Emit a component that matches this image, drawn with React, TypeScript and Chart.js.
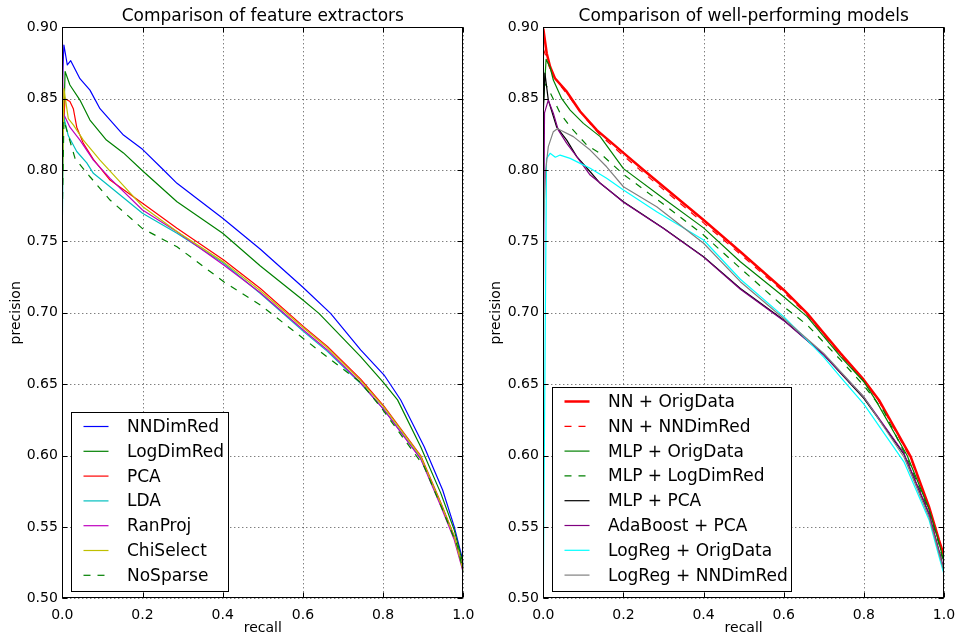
import React, { useEffect, useRef } from 'react';
import { Chart, registerables } from 'chart.js';
Chart.register(...registerables);

const FONT = "'DejaVu Sans', sans-serif";

const xTicks = [0, 0.2, 0.4, 0.6, 0.8, 1.0];
const yTicks = [0.5, 0.55, 0.6, 0.65, 0.7, 0.75, 0.8, 0.85, 0.9];

// ---------- Left panel: feature extractors ----------
const recNNDimRed = [0, 0.004, 0.0125, 0.021, 0.044, 0.069, 0.094, 0.1525, 0.2, 0.2525, 0.286, 0.4, 0.494, 0.6, 0.669, 0.744, 0.8025, 0.844, 0.9025, 0.9485, 0.9775, 0.9985, 1.0];
const preNNDimRed = [0.86, 0.8876, 0.8736, 0.8766, 0.864, 0.856, 0.843, 0.8245, 0.8145, 0.8, 0.7907, 0.7662, 0.7445, 0.7179, 0.6996, 0.674, 0.6564, 0.6389, 0.6062, 0.5759, 0.55, 0.5268, 0.522];

const recLogDimRed = [0, 0.007, 0.019, 0.044, 0.069, 0.11, 0.1525, 0.2, 0.286, 0.4, 0.494, 0.6, 0.64, 0.744, 0.8, 0.836, 0.894, 0.944, 0.9775, 0.9985, 1.0];
const preLogDimRed = [0.8, 0.869, 0.8596, 0.849, 0.835, 0.821, 0.812, 0.7995, 0.7778, 0.7557, 0.7328, 0.709, 0.6996, 0.6693, 0.6515, 0.639, 0.606, 0.5735, 0.5478, 0.525, 0.521];

const recPCA = [0, 0.007, 0.019, 0.0275, 0.036, 0.0525, 0.0775, 0.119, 0.2, 0.286, 0.4025, 0.494, 0.601, 0.661, 0.744, 0.8025, 0.894, 0.944, 0.9775, 1.0];
const prePCA = [0.82, 0.85, 0.848, 0.843, 0.83, 0.8187, 0.8075, 0.793, 0.7767, 0.7592, 0.737, 0.717, 0.6905, 0.6765, 0.6535, 0.6345, 0.5998, 0.567, 0.5435, 0.52];

const recLDA = [0, 0.003, 0.015, 0.036, 0.061, 0.0775, 0.119, 0.2, 0.286, 0.4025, 0.494, 0.601, 0.661, 0.744, 0.8025, 0.894, 0.944, 0.9775, 1.0];
const preLDA = [0.76, 0.838, 0.824, 0.813, 0.805, 0.7977, 0.7883, 0.7697, 0.7557, 0.7347, 0.7135, 0.687, 0.673, 0.6505, 0.632, 0.598, 0.5655, 0.5425, 0.519];

const recRanProj = [0, 0.002, 0.019, 0.044, 0.0775, 0.119, 0.2, 0.286, 0.4025, 0.494, 0.601, 0.661, 0.744, 0.8025, 0.894, 0.944, 0.9775, 1.0];
const preRanProj = [0.9, 0.84, 0.83, 0.821, 0.807, 0.7942, 0.772, 0.7568, 0.7335, 0.714, 0.688, 0.674, 0.651, 0.632, 0.5975, 0.5645, 0.541, 0.518];

const recChiSelect = [0, 0.004, 0.015, 0.0275, 0.0525, 0.094, 0.2, 0.286, 0.4025, 0.494, 0.601, 0.661, 0.744, 0.8025, 0.894, 0.944, 0.9775, 1.0];
const preChiSelect = [0.78, 0.857, 0.836, 0.8316, 0.821, 0.807, 0.7745, 0.757, 0.7355, 0.7155, 0.6895, 0.6755, 0.6525, 0.6338, 0.5992, 0.5662, 0.543, 0.519];

const recNoSparse = [0, 0.004, 0.011, 0.032, 0.069, 0.119, 0.2, 0.286, 0.4025, 0.494, 0.601, 0.661, 0.744, 0.794, 0.9025, 0.9485, 0.986, 1.0];
const preNoSparse = [0.77, 0.835, 0.828, 0.808, 0.7953, 0.779, 0.759, 0.7463, 0.7218, 0.7055, 0.682, 0.669, 0.6512, 0.634, 0.5922, 0.5618, 0.5362, 0.518];

// ---------- Right panel: well-performing models ----------
const recNNOrig = [0, 0.0085, 0.017, 0.029, 0.0585, 0.092, 0.1335, 0.2, 0.25, 0.4, 0.4918, 0.6, 0.6585, 0.7418, 0.8, 0.8375, 0.9168, 0.9625, 0.9875, 1.0];
const preNNOrig = [0.899, 0.8818, 0.8724, 0.8643, 0.8549, 0.841, 0.828, 0.812, 0.8, 0.765, 0.7428, 0.716, 0.6996, 0.6716, 0.653, 0.639, 0.5992, 0.5642, 0.5408, 0.53];

const recNNNNDimRed = [0, 0.006, 0.02, 0.035, 0.06, 0.1, 0.14, 0.2, 0.25, 0.4, 0.4918, 0.6, 0.6585, 0.7418, 0.8, 0.8375, 0.9168, 0.9625, 0.9875, 1.0];
const preNNNNDimRed = [0.885, 0.88, 0.868, 0.862, 0.853, 0.838, 0.825, 0.81, 0.798, 0.763, 0.741, 0.7145, 0.6985, 0.6705, 0.652, 0.638, 0.598, 0.563, 0.54, 0.527];

const recMLPOrig = [0, 0.007, 0.017, 0.025, 0.046, 0.067, 0.1, 0.142, 0.2, 0.3, 0.4, 0.4918, 0.6, 0.6585, 0.7418, 0.8, 0.829, 0.908, 0.9625, 0.9875, 1.0];
const preMLPOrig = [0.845, 0.8776, 0.872, 0.863, 0.85, 0.842, 0.8327, 0.8234, 0.801, 0.78, 0.7595, 0.7358, 0.7113, 0.6973, 0.6693, 0.6517, 0.639, 0.6, 0.5625, 0.539, 0.525];

const recMLPLogDimRed = [0, 0.0125, 0.042, 0.067, 0.1085, 0.142, 0.2, 0.3, 0.4, 0.4918, 0.6, 0.6585, 0.7418, 0.8, 0.85, 0.908, 0.9625, 0.9875, 1.0];
const preMLPLogDimRed = [0.862, 0.857, 0.8398, 0.8304, 0.8175, 0.8117, 0.797, 0.776, 0.7545, 0.7312, 0.7043, 0.6915, 0.667, 0.649, 0.631, 0.598, 0.561, 0.538, 0.523];

const recMLPPCA = [0, 0.004, 0.0125, 0.0335, 0.0585, 0.0835, 0.117, 0.142, 0.2, 0.3, 0.4, 0.4918, 0.6, 0.7, 0.8, 0.9, 0.9625, 0.99, 1.0];
const preMLPPCA = [0.84, 0.868, 0.849, 0.83, 0.821, 0.8094, 0.7988, 0.7907, 0.7778, 0.7592, 0.7393, 0.717, 0.6949, 0.6706, 0.64, 0.601, 0.559, 0.53, 0.518];

const recAdaPCA = [0, 0.003, 0.0125, 0.025, 0.0375, 0.0585, 0.0835, 0.117, 0.158, 0.2, 0.3, 0.4, 0.4918, 0.6, 0.7, 0.8, 0.9, 0.9625, 0.99, 1.0];
const preAdaPCA = [0.7, 0.84, 0.849, 0.8398, 0.828, 0.8187, 0.8094, 0.7965, 0.7872, 0.7775, 0.759, 0.739, 0.7165, 0.6945, 0.6706, 0.641, 0.6015, 0.5596, 0.531, 0.52];

const recLogRegOrig = [0, 0.008, 0.017, 0.03, 0.042, 0.067, 0.092, 0.117, 0.158, 0.2, 0.283, 0.4, 0.4918, 0.6, 0.6585, 0.7, 0.7418, 0.8, 0.9, 0.9625, 0.99, 1.0];
const preLogRegOrig = [0.505, 0.808, 0.8117, 0.809, 0.8105, 0.8082, 0.8047, 0.8012, 0.7942, 0.786, 0.7708, 0.751, 0.7235, 0.6973, 0.6809, 0.669, 0.655, 0.636, 0.5956, 0.5551, 0.5268, 0.517];

const recLogRegNN = [0, 0.006, 0.0125, 0.025, 0.035, 0.042, 0.075, 0.117, 0.158, 0.2, 0.283, 0.4, 0.4918, 0.6, 0.7, 0.8, 0.9, 0.9625, 0.99, 1.0];
const preLogRegNN = [0.76, 0.8, 0.8164, 0.8269, 0.829, 0.828, 0.8234, 0.814, 0.8023, 0.7883, 0.7743, 0.7487, 0.7218, 0.696, 0.6716, 0.641, 0.599, 0.557, 0.529, 0.519];

type Series = { label: string; rec: number[]; pre: number[]; color: string; width: number; dash: number[] };

const DASH = [7, 7];

const leftSeries: Series[] = [
  { label: 'NNDimRed', rec: recNNDimRed, pre: preNNDimRed, color: '#0000ff', width: 1.2, dash: [] },
  { label: 'LogDimRed', rec: recLogDimRed, pre: preLogDimRed, color: '#008000', width: 1.2, dash: [] },
  { label: 'PCA', rec: recPCA, pre: prePCA, color: '#ff0000', width: 1.2, dash: [] },
  { label: 'LDA', rec: recLDA, pre: preLDA, color: '#00bfbf', width: 1.2, dash: [] },
  { label: 'RanProj', rec: recRanProj, pre: preRanProj, color: '#bf00bf', width: 1.2, dash: [] },
  { label: 'ChiSelect', rec: recChiSelect, pre: preChiSelect, color: '#bfbf00', width: 1.2, dash: [] },
  { label: 'NoSparse', rec: recNoSparse, pre: preNoSparse, color: '#008000', width: 1.2, dash: DASH },
];

const rightSeries: Series[] = [
  { label: 'NN + OrigData', rec: recNNOrig, pre: preNNOrig, color: '#ff0000', width: 2.5, dash: [] },
  { label: 'NN + NNDimRed', rec: recNNNNDimRed, pre: preNNNNDimRed, color: '#ff0000', width: 1.2, dash: DASH },
  { label: 'MLP + OrigData', rec: recMLPOrig, pre: preMLPOrig, color: '#008000', width: 1.2, dash: [] },
  { label: 'MLP + LogDimRed', rec: recMLPLogDimRed, pre: preMLPLogDimRed, color: '#008000', width: 1.2, dash: DASH },
  { label: 'MLP + PCA', rec: recMLPPCA, pre: preMLPPCA, color: '#000000', width: 1.2, dash: [] },
  { label: 'AdaBoost + PCA', rec: recAdaPCA, pre: preAdaPCA, color: '#800080', width: 1.2, dash: [] },
  { label: 'LogReg + OrigData', rec: recLogRegOrig, pre: preLogRegOrig, color: '#00ffff', width: 1.2, dash: [] },
  { label: 'LogReg + NNDimRed', rec: recLogRegNN, pre: preLogRegNN, color: '#808080', width: 1.2, dash: [] },
];

const mplPlugin = {
  id: 'mpl',
  beforeDatasetsDraw(chart: any) {
    const { ctx, chartArea: a } = chart;
    const xs = chart.scales.x;
    const ys = chart.scales.y;
    ctx.save();
    ctx.strokeStyle = 'rgba(0,0,0,0.8)';
    ctx.lineWidth = 0.9;
    ctx.setLineDash([1, 3]);
    ctx.beginPath();
    for (const v of xTicks) {
      const p = Math.round(xs.getPixelForValue(v)) + 0.5;
      ctx.moveTo(p, a.top);
      ctx.lineTo(p, a.bottom);
    }
    for (const v of yTicks) {
      const p = Math.round(ys.getPixelForValue(v)) + 0.5;
      ctx.moveTo(a.left, p);
      ctx.lineTo(a.right, p);
    }
    ctx.stroke();
    ctx.restore();
  },
  afterDraw(chart: any, _args: any, opts: any) {
    const { ctx, chartArea: a } = chart;
    const xs = chart.scales.x;
    const ys = chart.scales.y;
    ctx.save();
    ctx.setLineDash([]);
    ctx.strokeStyle = '#000';
    ctx.lineWidth = 1;
    const L = Math.round(a.left) + 0.5;
    const R = Math.round(a.right) - 0.5;
    const T = Math.round(a.top) + 0.5;
    const B = Math.round(a.bottom) - 0.5;
    ctx.strokeRect(L, T, R - L, B - T);
    ctx.beginPath();
    const tl = 5;
    for (const v of xTicks) {
      const p = Math.round(xs.getPixelForValue(v)) + 0.5;
      ctx.moveTo(p, B); ctx.lineTo(p, B - tl);
      ctx.moveTo(p, T); ctx.lineTo(p, T + tl);
    }
    for (const v of yTicks) {
      const p = Math.round(ys.getPixelForValue(v)) + 0.5;
      ctx.moveTo(L, p); ctx.lineTo(L + tl, p);
      ctx.moveTo(R, p); ctx.lineTo(R - tl, p);
    }
    ctx.stroke();

    // title
    ctx.fillStyle = '#000';
    ctx.font = `17px ${FONT}`;
    ctx.textAlign = 'center';
    ctx.textBaseline = 'alphabetic';
    ctx.fillText(opts.title, (a.left + a.right) / 2, 21);

    // legend
    const ds = chart.data.datasets;
    const n = ds.length;
    ctx.font = `17px ${FONT}`;
    let maxW = 0;
    for (const d of ds) maxW = Math.max(maxW, ctx.measureText(d.label).width);
    const rowH = 24.8, padT = 14, padB = 16;
    const bw = Math.round(55.5 + maxW + 4);
    const bh = Math.round(padT + (n - 1) * rowH + padB);
    const bx = Math.round(a.left + 8.7) + 0.5;
    const by = Math.round(a.bottom - 7.6 - bh) + 0.5;
    ctx.fillStyle = '#fff';
    ctx.fillRect(bx, by, bw, bh);
    ctx.strokeStyle = '#000';
    ctx.lineWidth = 1;
    ctx.strokeRect(bx, by, bw, bh);
    ctx.textAlign = 'left';
    ctx.textBaseline = 'middle';
    for (let i = 0; i < n; i++) {
      const d = ds[i];
      const cy = by + padT + i * rowH;
      ctx.save();
      ctx.strokeStyle = d.borderColor;
      ctx.lineWidth = d.borderWidth;
      ctx.setLineDash(d.borderDash || []);
      ctx.beginPath();
      ctx.moveTo(bx + 12, cy);
      ctx.lineTo(bx + 37, cy);
      ctx.stroke();
      ctx.restore();
      ctx.fillStyle = '#000';
      ctx.fillText(d.label, bx + 55.5, cy + 1);
    }
    ctx.restore();
  },
};

function Panel(props: { series: Series[]; title: string; left: number; width: number; areaLeft: number; padRight: number }) {
  const ref = useRef<HTMLCanvasElement>(null);
  useEffect(() => {
    const tickFont = { family: FONT, size: 14 };
    const chart = new Chart(ref.current as HTMLCanvasElement, {
      type: 'line',
      data: {
        datasets: props.series.map((s, i) => ({
          label: s.label,
          data: s.rec.map((r, k) => ({ x: r, y: s.pre[k] })),
          borderColor: s.color,
          backgroundColor: s.color,
          borderWidth: s.width,
          borderDash: s.dash,
          pointRadius: 0,
          tension: 0,
          fill: false,
          order: -i,
          borderJoinStyle: 'round',
        })),
      },
      options: {
        animation: false,
        responsive: false,
        events: [],
        layout: { padding: { top: 27.3, right: props.padRight, bottom: 0, left: 0 } },
        plugins: {
          legend: { display: false },
          tooltip: { enabled: false },
          title: { display: false },
          // @ts-ignore
          mpl: { title: props.title },
        },
        scales: {
          x: {
            type: 'linear',
            min: 0,
            max: 1,
            afterBuildTicks: (s: any) => { s.ticks = xTicks.map((v) => ({ value: v })); },
            afterFit: (s: any) => { s.height = 38.7; },
            grid: { display: false, drawTicks: true, tickLength: 8 },
            border: { display: false },
            ticks: { autoSkip: false, maxRotation: 0, padding: 1, color: '#000', font: tickFont, callback: (v: any) => Number(v).toFixed(1) },
            title: { display: true, text: 'recall', color: '#000', font: tickFont, padding: { top: 0, bottom: 0 } },
          },
          y: {
            type: 'linear',
            min: 0.5,
            max: 0.9,
            afterBuildTicks: (s: any) => { s.ticks = yTicks.map((v) => ({ value: v })); },
            afterFit: (s: any) => { s.width = props.areaLeft; },
            grid: { display: false, drawTicks: false },
            border: { display: false },
            ticks: { autoSkip: false, padding: 4.5, color: '#000', font: tickFont, callback: (v: any) => Number(v).toFixed(2) },
            title: { display: true, text: 'precision', color: '#000', font: tickFont, padding: { top: 7.6, bottom: 0 } },
          },
        },
      } as any,
      plugins: [mplPlugin as any],
    });
    return () => chart.destroy();
  }, []);
  return (
    <canvas
      ref={ref}
      width={props.width}
      height={637}
      style={{ position: 'absolute', left: props.left, top: 0, width: props.width, height: 637 }}
    />
  );
}

export default function App() {
  return (
    <div style={{ position: 'fixed', left: 0, top: 0, width: 957, height: 637, background: '#fff', overflow: 'hidden' }}>
      <Panel series={leftSeries} title="Comparison of feature extractors" left={0} width={480} areaLeft={62.3} padRight={16.7} />
      <Panel series={rightSeries} title="Comparison of well-performing models" left={480} width={477} areaLeft={63.3} padRight={13} />
    </div>
  );
}
